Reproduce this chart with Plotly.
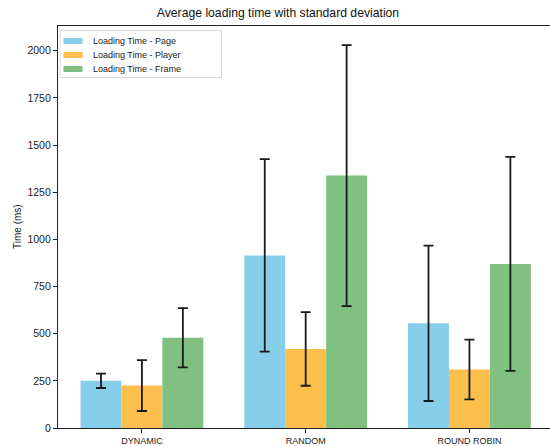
import plotly.graph_objects as go

categories = ["DYNAMIC", "RANDOM", "ROUND ROBIN"]
series_names = ["Loading Time - Page", "Loading Time - Player", "Loading Time - Frame"]
page_mean = [250, 915, 555]
page_std = [38, 510, 412]
player_mean = [225, 419, 310]
player_std = [135, 195, 158]
frame_mean = [478, 1338, 870]
frame_std = [157, 692, 567]
y_ticks = [0, 250, 500, 750, 1000, 1250, 1500, 1750, 2000]

colors = ["#87CEEB", "#FDBF4C", "#80C080"]
means = [page_mean, player_mean, frame_mean]
stds = [page_std, player_std, frame_std]

W, H = 550, 446
L, R, T, B = 58, 0, 26, 18
pw, ph = W - L - R, H - T - B
FONT = "Liberation Sans, Arial, sans-serif"

fig = go.Figure()
for name, m, s, c in zip(series_names, means, stds, colors):
    fig.add_trace(go.Bar(
        x=categories, y=m, name=name, marker=dict(color=c, line=dict(width=0)),
        error_y=dict(type="data", array=s, visible=True, color="#1a1a1a", thickness=1.8, width=5),
        showlegend=False,
    ))

def px_x(p):
    return (p - L) / pw

def px_y(p):
    return (H - B - p) / ph

shapes = []
annotations = []
# legend box
shapes.append(dict(type="rect", xref="paper", yref="paper",
                   x0=px_x(60), x1=px_x(221.5), y0=px_y(77.5), y1=px_y(30.5),
                   line=dict(color="#d9d9d9", width=1), fillcolor="rgba(255,255,255,0.85)", layer="above"))
rows = [41, 55, 69]
for name, c, ry in zip(series_names, colors, rows):
    shapes.append(dict(type="rect", xref="paper", yref="paper",
                       x0=px_x(63.5), x1=px_x(82.5), y0=px_y(ry + 3), y1=px_y(ry - 3),
                       line=dict(width=0), fillcolor=c, layer="above"))
    annotations.append(dict(xref="paper", yref="paper", x=px_x(90.5), y=px_y(ry),
                            xanchor="left", yanchor="middle", text=name, showarrow=False,
                            font=dict(size=9, color="#222", family=FONT)))
annotations.append(dict(xref="paper", yref="paper", x=px_x(17), y=0.5, text="Time (ms)",
                        textangle=-90, showarrow=False, xanchor="center", yanchor="middle",
                        font=dict(size=10, color="#222", family=FONT)))

fig.update_layout(
    width=W, height=H,
    margin=dict(l=L, r=R, t=T, b=B, pad=0),
    paper_bgcolor="white", plot_bgcolor="white",
    barmode="group", bargap=0.25, bargroupgap=0,
    font=dict(family=FONT, size=11, color="#222"),
    title=dict(text="Average loading time with standard deviation", x=278 / W, xref="container",
               xanchor="center", y=1 - 13 / H, yref="container", yanchor="middle",
               font=dict(size=12.2, color="#111")),
    shapes=shapes, annotations=annotations,
    xaxis=dict(range=[-0.5125, 2.492], showline=True, linecolor="#222", linewidth=1.2, mirror=True,
               ticks="outside", ticklen=4, tickcolor="#222", showgrid=False, zeroline=False,
               tickfont=dict(size=9, color="#222")),
    yaxis=dict(range=[0, 2131], tickvals=y_ticks, showline=True, linecolor="#222", linewidth=1.2,
               ticks="outside", ticklen=4, tickcolor="#222", showgrid=False, zeroline=False,
               tickfont=dict(size=10.5, color="#222")),
)
fig.write_html("out.html")
